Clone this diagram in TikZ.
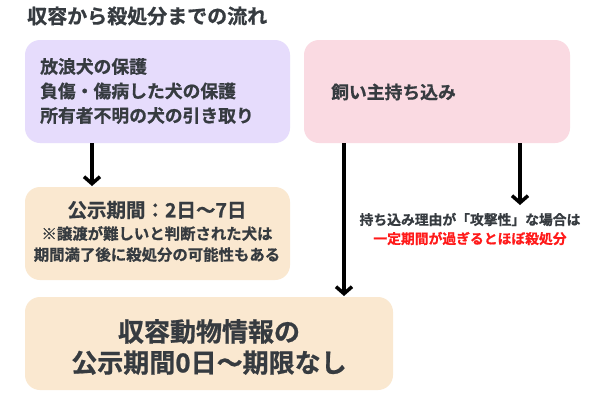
\documentclass[tikz,border=0pt]{standalone}
\usepackage{fontspec}
\setmainfont{Noto Sans CJK JP}[BoldFont={Noto Sans CJK JP Bold}, BoldFeatures={FakeBold=0.8}]
\usetikzlibrary{arrows.meta}
\definecolor{txt}{HTML}{363B40}
\definecolor{lav}{HTML}{E6DCFC}
\definecolor{pinkbg}{HTML}{FADAE2}
\definecolor{beige}{HTML}{FAE8D0}
\definecolor{redtxt}{HTML}{FF1A1A}
\tikzset{
  box/.style={rounded corners=15pt, draw=none},
  flow/.style={line width=3.5pt, -{Straight Barb[length=7pt,width=16pt,line width=3.5pt]}},
  lbl/.style={inner sep=0pt, text=txt, font=\bfseries},
}
\begin{document}
\begin{tikzpicture}[x=1pt,y=-1pt]
\useasboundingbox (0,0) rectangle (600,400);
\fill[white] (0,0) rectangle (600,400);
% title
\node[lbl, anchor=west, font=\bfseries\fontsize{20}{24}\selectfont] (title) at (27,16) {収容から殺処分までの流れ};
% boxes
\fill[box, lav] (25,40) rectangle (290,143);
\node[lbl, anchor=west, align=left, font=\bfseries\fontsize{17.8}{24.5}\selectfont] (b1) at (40,91) {放浪犬の保護\\負傷・傷病した犬の保護\\所有者不明の犬の引き取り};
\fill[box, pinkbg] (304,40) rectangle (570,143);
\node[lbl, anchor=west, font=\bfseries\fontsize{17.8}{20}\selectfont] (b2) at (331,92) {飼い主持ち込み};
\fill[box, beige] (25,187) rectangle (290,280);
\node[lbl, font=\bfseries\fontsize{19.5}{22}\selectfont] (b3a) at (157,210) {公示期間：2日〜7日};
\node[lbl, align=center, font=\bfseries\fontsize{15.4}{21}\selectfont] (b3b) at (157,244) {※譲渡が難しいと判断された犬は\\期間満了後に殺処分の可能性もある};
\fill[box, beige] (25,297) rectangle (393,390);
\node[lbl, align=center, font=\bfseries\fontsize{26}{31}\selectfont] (b4) at (209,347) {収容動物情報の\\公示期間0日〜期限なし};
% note
\node[lbl, align=center, font=\bfseries\fontsize{13.8}{19}\selectfont] (note) at (470,229) {持ち込み理由が「攻撃性」な場合は\\\textcolor{redtxt}{一定期間が過ぎるとほぼ殺処分}};
% arrows
\coordinate (a1s) at (92,143);
\coordinate (a1e) at (92,186);
\coordinate (a2s) at (344,143);
\coordinate (a2e) at (344,296);
\coordinate (a3s) at (520,143);
\coordinate (a3e) at (520,205);
\draw[flow] (a1s) -- (a1e);
\draw[flow] (a2s) -- (a2e);
\draw[flow] (a3s) -- (a3e);
\end{tikzpicture}
\end{document}
